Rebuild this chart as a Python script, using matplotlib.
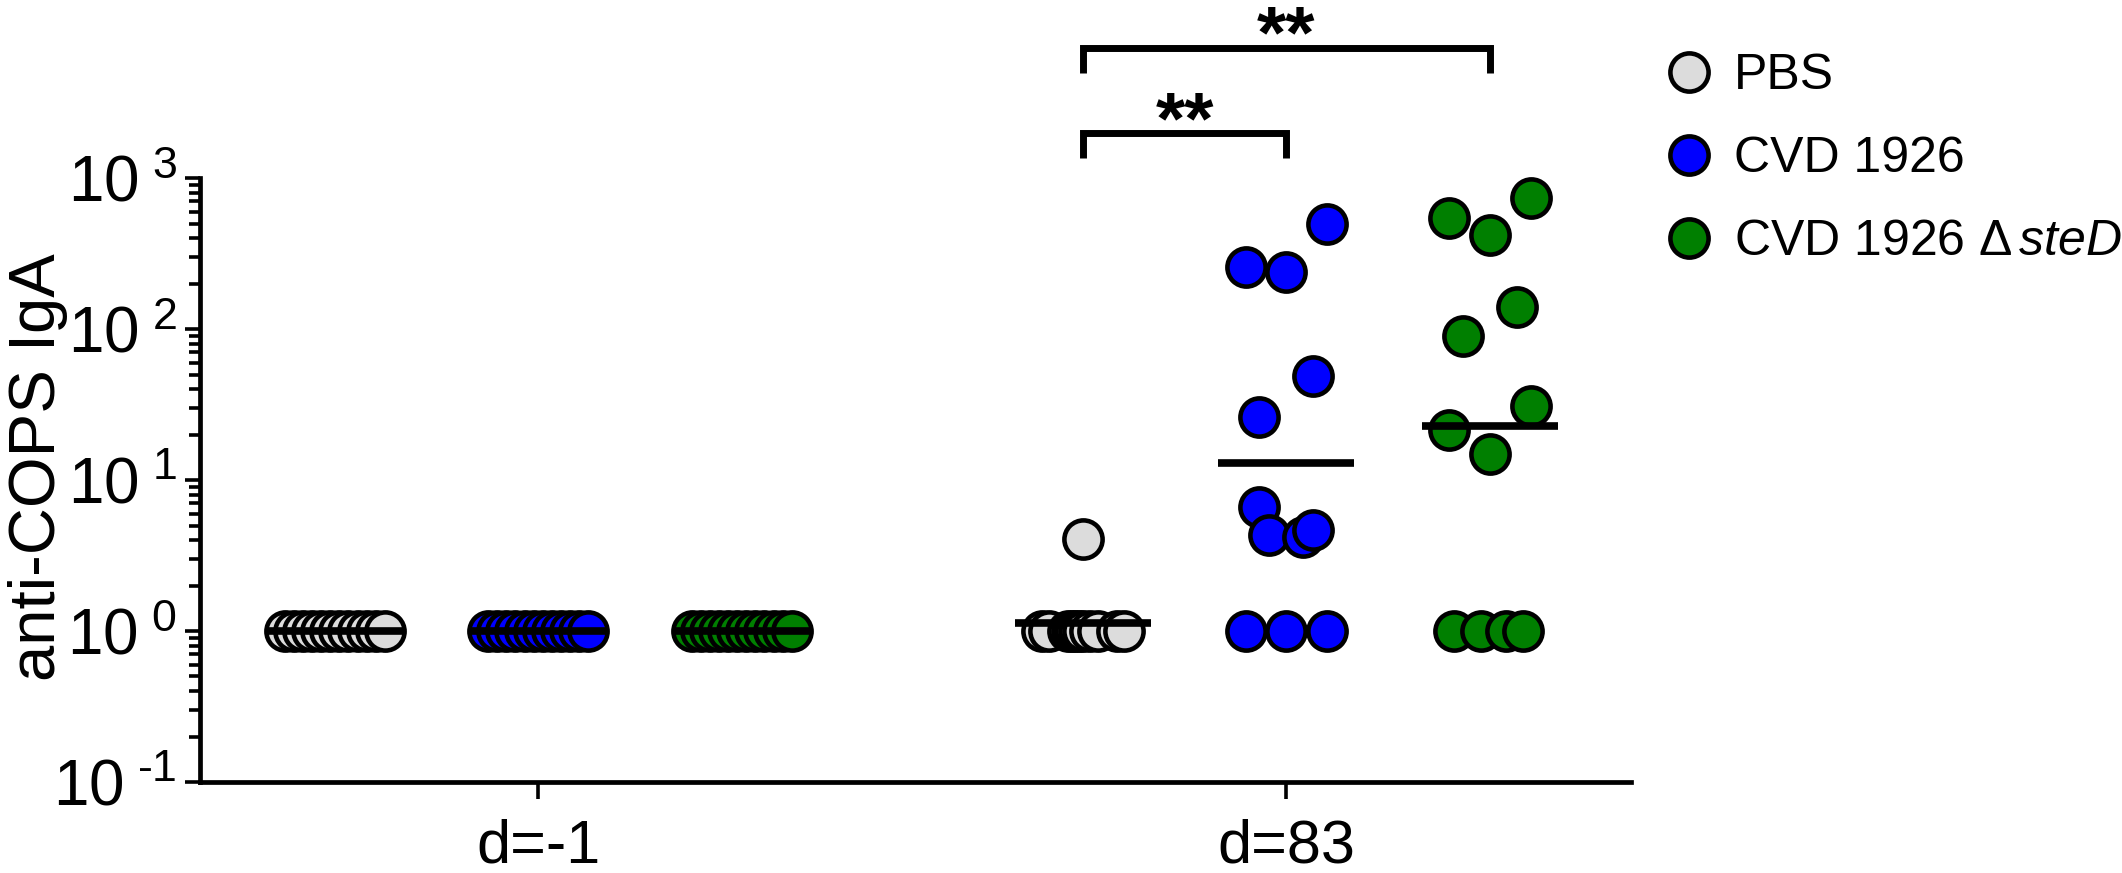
import numpy as np
import matplotlib
matplotlib.use('Agg')
import matplotlib.pyplot as plt
from matplotlib.lines import Line2D
from matplotlib.ticker import LogLocator, NullFormatter, FixedLocator, FixedFormatter

plt.rcParams['font.family'] = ['Liberation Sans', 'DejaVu Sans']
plt.rcParams['mathtext.fontset'] = 'custom'
plt.rcParams['mathtext.rm'] = 'Liberation Sans'
plt.rcParams['mathtext.it'] = 'Liberation Sans:italic'
plt.rcParams['mathtext.default'] = 'regular'


days = ['d=-1', 'd=83']
groups = ['PBS', 'CVD 1926', 'CVD 1926 Δ$\\,\\it{steD}$']
colors = ['#dcdcdc', '#0000ff', '#007f00']

# d=-1: every animal at the floor value
pre_pbs = [1, 1, 1, 1, 1, 1, 1, 1, 1, 1, 1, 1]
pre_cvd = [1, 1, 1, 1, 1, 1, 1, 1, 1, 1, 1, 1]
pre_ste = [1, 1, 1, 1, 1, 1, 1, 1, 1, 1, 1, 1]

# d=83
post_pbs = [4.1, 1, 1, 1, 1, 1, 1, 1, 1, 1, 1, 1]
post_cvd = [500, 259, 240, 49, 26, 6.6, 4.3, 4.2, 4.7, 1, 1, 1]
post_ste = [738, 543, 421, 139, 90, 30.8, 21.3, 14.9, 1, 1, 1, 1]

data = [[pre_pbs, pre_cvd, pre_ste], [post_pbs, post_cvd, post_ste]]

# horizontal scatter of the points inside each group (x units)
jit_pre = list(np.linspace(-0.067, 0.067, 12))
jit_pbs = [0, -0.055, -0.045, -0.02, -0.015, -0.01, -0.005, 0.0, 0.01, 0.02, 0.045, 0.055]
jit_cvd = [0.055, -0.054, 0, 0.036, -0.036, -0.036, -0.023, 0.022, 0.036, -0.054, 0, 0.055]
jit_ste = [0.055, -0.054, 0, 0.036, -0.036, 0.055, -0.054, 0, -0.048, -0.012, 0.021, 0.045]
jitters = [[jit_pre, jit_pre, jit_pre], [jit_pbs, jit_cvd, jit_ste]]

day_x = [0, 1]
grp_off = [-0.272, 0, 0.272]
half_line = 0.091


fig = plt.figure(figsize=(21.22, 8.73), dpi=100)
ax = fig.add_axes([0.0943, 0.1042, 0.6744, 0.6918])

for d in range(2):
    for g in range(3):
        xc = day_x[d] + grp_off[g]
        vals = np.array(data[d][g], dtype=float)
        xs = xc + np.array(jitters[d][g])
        ax.plot(xs, vals, 'o', ms=27.5, mfc=colors[g], mec='black', mew=3.3,
                ls='none', zorder=3, clip_on=False)
        gm = 10 ** np.mean(np.log10(vals))   # geometric mean line
        ax.hlines(gm, xc - half_line, xc + half_line, color='black', lw=5.5, zorder=4)

ax.set_yscale('log')
ax.set_ylim(0.1, 1000)
ax.set_xlim(-0.452, 1.461)

ax.yaxis.set_major_locator(FixedLocator([0.1, 1, 10, 100, 1000]))
ax.yaxis.set_major_formatter(FixedFormatter(['$10^{\\ \\text{-}1}$', '$10^{\\ 0}$', '$10^{\\ 1}$',
                                             '$10^{\\ 2}$', '$10^{\\ 3}$']))
ax.yaxis.set_minor_locator(LogLocator(base=10, subs=np.arange(2, 10)))
ax.yaxis.set_minor_formatter(NullFormatter())

ax.set_xticks(day_x)
ax.set_xticklabels(days)

for s in ['top', 'right']:
    ax.spines[s].set_visible(False)
for s in ['left', 'bottom']:
    ax.spines[s].set_linewidth(3.4)

ax.tick_params(axis='y', which='major', length=11, width=2.6, labelsize=46, pad=6)
ax.tick_params(axis='y', which='minor', length=8, width=2.6)
ax.tick_params(axis='x', which='major', length=12, width=2.6, labelsize=44, pad=14)

fig.text(38 / 2122, 1 - 467 / 873, 'anti-COPS IgA', rotation=90, ha='center', va='center',
         fontsize=47)

# significance brackets
def bracket(x0, x1, ylo, yhi, yst):
    ax.plot([x0, x0, x1, x1], [ylo, yhi, yhi, ylo], color='black', lw=5,
            solid_joinstyle='miter', solid_capstyle='butt', clip_on=False)
    ax.text((x0 + x1) / 2, yst, '**', ha='center', va='baseline', fontsize=54,
            fontweight='bold')

bracket(day_x[1] + grp_off[0], day_x[1] + grp_off[1], 10 ** 3.13, 10 ** 3.30, 10 ** 3.233)
bracket(day_x[1] + grp_off[0], day_x[1] + grp_off[2], 10 ** 3.693, 10 ** 3.863, 10 ** 3.797)

handles = [Line2D([], [], marker='o', ls='none', ms=27.5, mfc=c, mec='black', mew=3.3)
           for c in colors]
fig.legend(handles, groups, loc='upper left', bbox_to_anchor=(1634 / 2122, 1 - 33 / 873),
           frameon=False, fontsize=36, handletextpad=0.2, labelspacing=0.74,
           handlelength=1.4, borderaxespad=0)

fig.savefig('out.png', dpi=100)
